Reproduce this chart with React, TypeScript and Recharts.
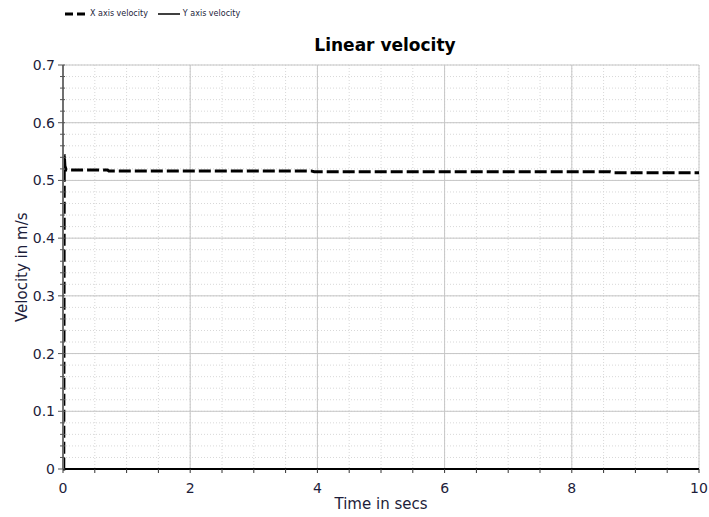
import React from "react";
import { LineChart, Line, XAxis, YAxis, CartesianGrid, ReferenceLine } from "recharts";

const xVelTime = [0, 0.012, 0.02, 0.03, 0.05, 0.7, 0.72, 3.9, 3.95, 8.6, 8.65, 10];
const xVelValue = [0, 0, 0.545, 0.525, 0.518, 0.518, 0.5165, 0.5165, 0.515, 0.515, 0.5135, 0.5135];
const yVelTime = [0, 10];
const yVelValue = [0, 0];

const xMajorTicks = [0, 2, 4, 6, 8, 10];
const xMinorTicks = [0, 0.5, 1, 1.5, 2, 2.5, 3, 3.5, 4, 4.5, 5, 5.5, 6, 6.5, 7, 7.5, 8, 8.5, 9, 9.5, 10];
const yMajorTicks = [0, 0.1, 0.2, 0.3, 0.4, 0.5, 0.6, 0.7];
const yMinorTicks = [
  0, 0.02, 0.04, 0.06, 0.08, 0.1, 0.12, 0.14, 0.16, 0.18, 0.2, 0.22, 0.24, 0.26, 0.28, 0.3,
  0.32, 0.34, 0.36, 0.38, 0.4, 0.42, 0.44, 0.46, 0.48, 0.5, 0.52, 0.54, 0.56, 0.58, 0.6,
  0.62, 0.64, 0.66, 0.68, 0.7,
];

const FONT = "'DejaVu Sans', Verdana, sans-serif";
const LABEL = "#1d1d3a";

const xSeries = xVelTime.map((t, i) => ({ t, v: xVelValue[i] }));
const ySeries = yVelTime.map((t, i) => ({ t, v: yVelValue[i] }));

const isMajor = (v: number, step: number) => Math.abs(v / step - Math.round(v / step)) < 1e-6;

function YTick(props: any) {
  const { x, y, payload } = props;
  const major = isMajor(payload.value, 0.1);
  return (
    <g>
      <line x1={major ? x - 5 : x - 3} x2={x + 2} y1={y} y2={y} stroke="#555" strokeWidth={1} />
      {major && (
        <text x={x - 8} y={y} dy={5} textAnchor="end" fontSize={14} fontFamily={FONT} fill={LABEL}>
          {Number(payload.value.toFixed(1)) === 0 ? "0" : payload.value.toFixed(1)}
        </text>
      )}
    </g>
  );
}

function XTick(props: any) {
  const { x, y, payload } = props;
  const major = isMajor(payload.value, 2);
  return (
    <g>
      <line x1={x} x2={x} y1={y} y2={y + 4} stroke="#333" strokeWidth={1} />
      {major && (
        <text x={x} y={y + 24} textAnchor="middle" fontSize={14} fontFamily={FONT} fill={LABEL}>
          {payload.value}
        </text>
      )}
    </g>
  );
}

export default function App() {
  return (
    <div style={{ position: "absolute", left: 0, top: 0, width: 709, height: 517, background: "#fff", fontFamily: FONT }}>
      <div style={{ position: "absolute", left: 64, top: 9, display: "flex", alignItems: "center", fontSize: 8, color: LABEL }}>
        <svg width={24} height={6}>
          <line x1={1} x2={23} y1={3} y2={3} stroke="#000" strokeWidth={3} strokeDasharray="8 4" />
        </svg>
        <span style={{ marginLeft: 2 }}>X axis velocity</span>
        <svg width={22} height={6} style={{ marginLeft: 10 }}>
          <line x1={0} x2={22} y1={3} y2={3} stroke="#000" strokeWidth={1.5} />
        </svg>
        <span style={{ marginLeft: 3 }}>Y axis velocity</span>
      </div>
      <div style={{ position: "absolute", left: 63, width: 644, top: 35, textAlign: "center", fontSize: 17, fontWeight: "bold", color: "#000" }}>
        Linear velocity
      </div>
      <LineChart width={709} height={517} margin={{ top: 65, right: 10, bottom: 0, left: 0 }}>
        <CartesianGrid stroke="#d8d8d8" strokeDasharray="1 2" />
        <XAxis
          type="number"
          dataKey="t"
          domain={[0, 10]}
          ticks={xMinorTicks}
          interval={0}
          height={48}
          tickSize={0}
          tickMargin={0}
          tick={<XTick />}
          axisLine={{ stroke: "#000", strokeWidth: 2 }}
          allowDuplicatedCategory={false}
          label={{ value: "Time in secs", position: "insideBottom", offset: 8, fontSize: 15, fontFamily: FONT, fill: LABEL }}
        />
        <YAxis
          type="number"
          domain={[0, 0.7]}
          ticks={yMinorTicks}
          interval={0}
          width={63}
          tickSize={0}
          tickMargin={0}
          tick={<YTick />}
          axisLine={{ stroke: "#707070", strokeWidth: 2 }}
          label={{ value: "Velocity in m/s", angle: -90, position: "insideLeft", offset: 22, dy: 55, fontSize: 15, fontFamily: FONT, fill: LABEL }}
        />
        {xMajorTicks.map((t) => (
          <ReferenceLine key={"vx" + t} x={t} stroke="#c6c6c6" strokeWidth={1} />
        ))}
        {yMajorTicks.map((v) => (
          <ReferenceLine key={"hy" + v} y={v} stroke="#c6c6c6" strokeWidth={1} />
        ))}
        <Line
          data={ySeries}
          dataKey="v"
          type="linear"
          stroke="#000"
          strokeWidth={2}
          dot={false}
          isAnimationActive={false}
        />
        <Line
          data={xSeries}
          dataKey="v"
          type="linear"
          stroke="#000"
          strokeWidth={3}
          strokeDasharray="12 4"
          dot={false}
          isAnimationActive={false}
        />
      </LineChart>
    </div>
  );
}
